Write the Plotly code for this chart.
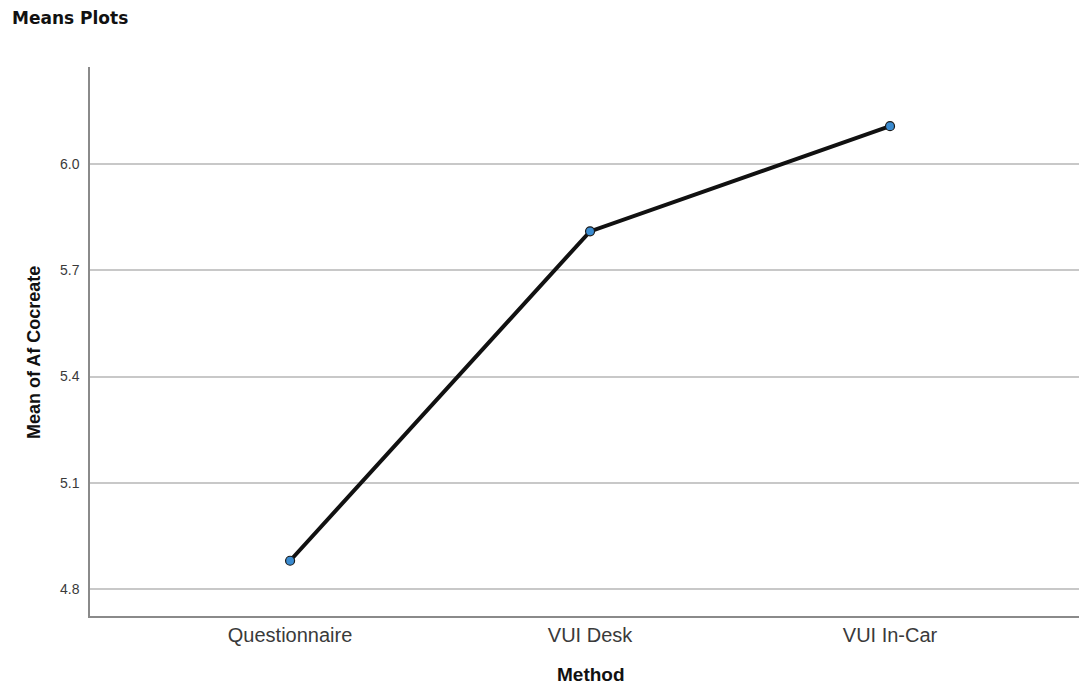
import plotly.graph_objects as go

categories = ["Questionnaire", "VUI Desk", "VUI In-Car"]
means = [4.880, 5.810, 6.107]
y_ticks = [4.8, 5.1, 5.4, 5.7, 6.0]
y_tick_labels = ["4.8", "5.1", "5.4", "5.7", "6.0"]

fig = go.Figure()
fig.add_trace(go.Scatter(
    x=categories, y=means, mode="lines+markers",
    line=dict(color="#111111", width=4),
    marker=dict(size=9, color="#3a8bd0", line=dict(color="#1a1a1a", width=1.2)),
    showlegend=False, cliponaxis=False,
))

W, H = 1079, 688
ml, mr, mt, mb = 90, 0, 67, 72
pw, ph = W - ml - mr, H - mt - mb

fig.update_layout(
    width=W, height=H,
    margin=dict(l=ml, r=mr, t=mt, b=mb),
    paper_bgcolor="white", plot_bgcolor="white",
    font=dict(family="Liberation Sans, Arial, sans-serif", color="#333333"),
    xaxis=dict(
        type="category", range=[-0.667, 2.63],
        showgrid=False, zeroline=False,
        showline=True, linecolor="#8a8a8a", linewidth=1.5,
        ticks="", tickfont=dict(size=20, color="#3a3a3a"),
    ),
    yaxis=dict(
        range=[4.724, 6.274],
        tickvals=y_ticks, ticktext=y_tick_labels,
        showgrid=True, gridcolor="#c8c8c8", gridwidth=1.5,
        zeroline=False,
        showline=True, linecolor="#8a8a8a", linewidth=1.5,
        ticks="", ticklabelstandoff=6, tickfont=dict(size=14, color="#3a3a3a"),
    ),
)

def px_to_paper_x(px):
    return (px - ml) / pw

def px_to_paper_y(py):
    return (H - mb - py) / ph

fig.add_annotation(
    text="<b>Means Plots</b>", xref="paper", yref="paper",
    x=px_to_paper_x(10), y=px_to_paper_y(18), xanchor="left", yanchor="middle",
    showarrow=False, font=dict(size=17, color="#111111", family="DejaVu Sans, sans-serif"),
)
fig.add_annotation(
    text="<b>Mean of Af Cocreate</b>", xref="paper", yref="paper",
    x=px_to_paper_x(34), y=px_to_paper_y(353), xanchor="center", yanchor="middle",
    textangle=-90, showarrow=False, font=dict(size=18, color="#111111"),
)
fig.add_annotation(
    text="<b>Method</b>", xref="paper", yref="paper",
    x=px_to_paper_x(591), y=px_to_paper_y(674), xanchor="center", yanchor="middle",
    showarrow=False, font=dict(size=19, color="#111111"),
)

fig.write_html(
    "out.html",
    config={"displayModeBar": False},
    post_script="document.body.style.margin='0';document.body.style.padding='0';",
)
